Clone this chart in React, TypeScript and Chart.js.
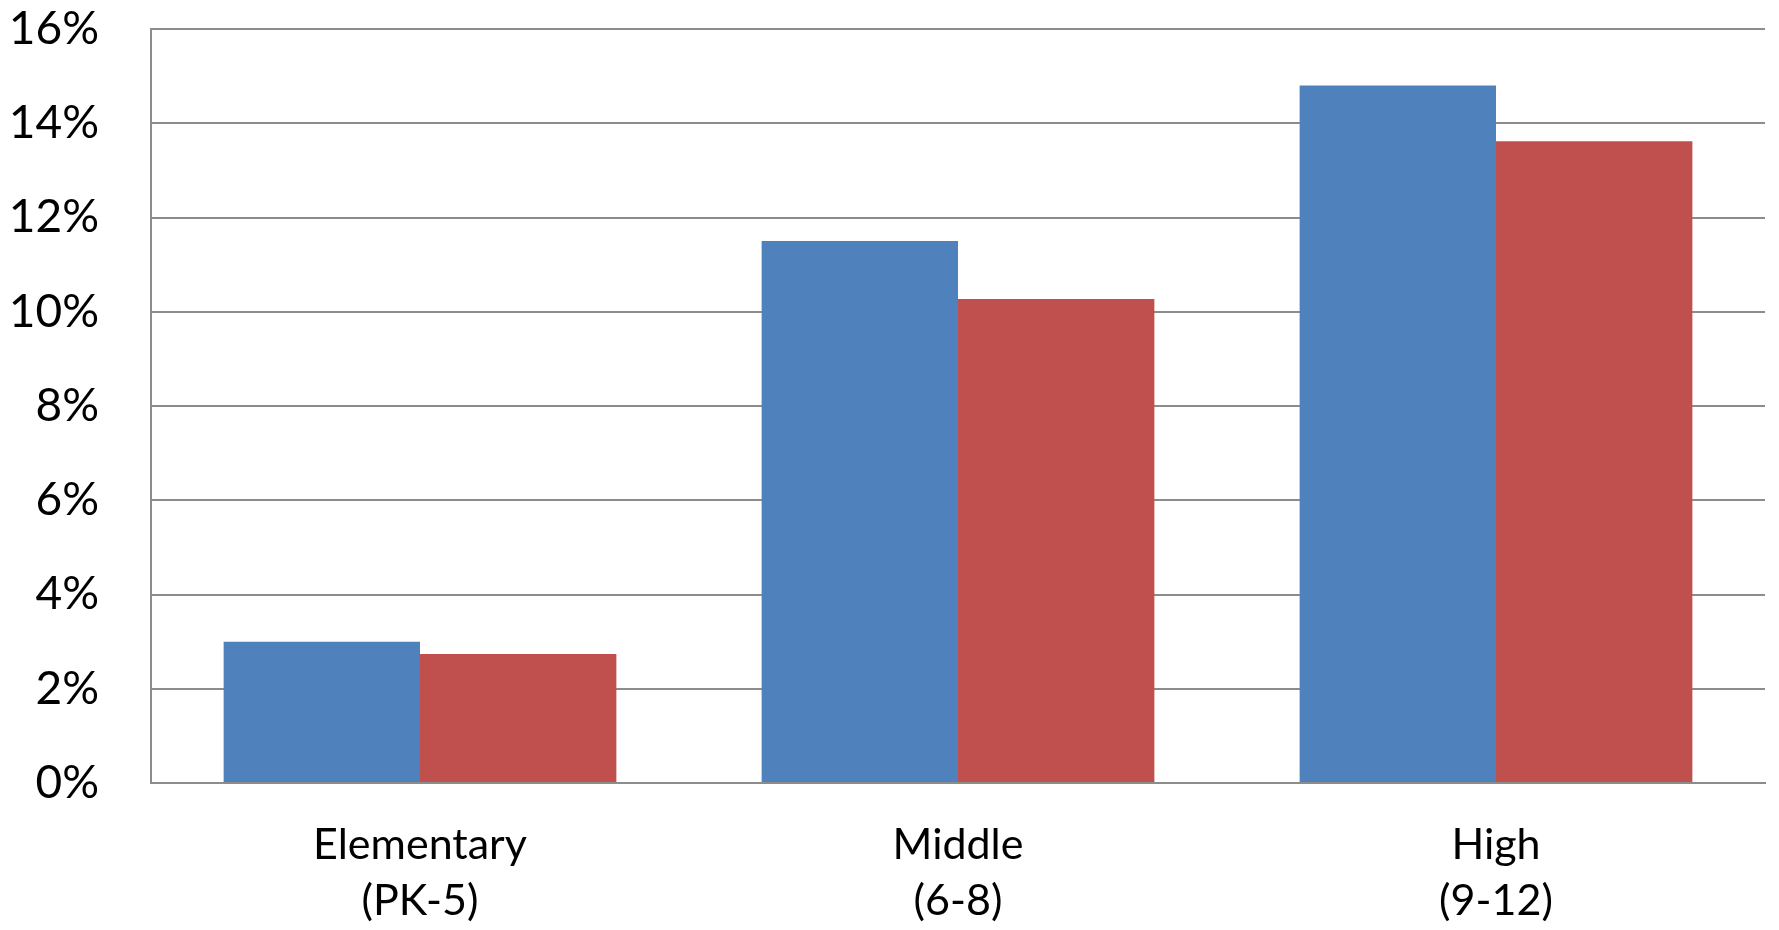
import React, { useEffect, useRef } from "react";
import { Chart, registerables } from "chart.js";

Chart.register(...registerables);

const categories: string[][] = [["Elementary", "(PK-5)"], ["Middle", "(6-8)"], ["High", "(9-12)"]];
const seriesA: number[] = [3.0, 11.5, 14.8];
const seriesB: number[] = [2.74, 10.27, 13.62];
const yTicks: number[] = [0, 2, 4, 6, 8, 10, 12, 14, 16];

export default function App() {
  const ref = useRef<HTMLCanvasElement | null>(null);
  useEffect(() => {
    if (!ref.current) return;
    const chart = new Chart(ref.current, {
      type: "bar",
      data: {
        labels: categories,
        datasets: [
          { label: "A", data: seriesA, backgroundColor: "#4F81BD", borderWidth: 0 },
          { label: "B", data: seriesB, backgroundColor: "#C0504D", borderWidth: 0 },
        ],
      },
      options: {
        responsive: false,
        animation: false,
        layout: { padding: { top: 29, right: 14, left: 0, bottom: 0 } },
        plugins: { legend: { display: false }, tooltip: { enabled: false } },
        datasets: { bar: { categoryPercentage: 0.73, barPercentage: 1 } },
        scales: {
          x: {
            grid: { display: false, drawTicks: false },
            border: { display: true, color: "#8c8c8c", width: 2 },
            ticks: {
              color: "#000",
              padding: 34,
              maxRotation: 0,
              font: { family: "Lato", size: 43, lineHeight: 1.3 },
            },
            afterFit: (s: any) => {
              s.height = 147;
              s.paddingLeft = 0;
              s.paddingRight = 0;
            },
          },
          y: {
            min: 0,
            max: 16,
            afterBuildTicks: (s: any) => { s.ticks = yTicks.map((v) => ({ value: v })); },
            grid: { color: "#8c8c8c", lineWidth: 2, drawTicks: false },
            border: { display: true, color: "#8c8c8c", width: 2 },
            ticks: {
              color: "#000",
              padding: 52,
              font: { family: "Lato", size: 46, lineHeight: 1.2 },
              callback: (v: any) => `${v}%`,
            },
            afterFit: (s: any) => {
              s.width = 151;
              s.paddingTop = 0;
              s.paddingBottom = 0;
            },
          },
        },
      },
    });
    return () => chart.destroy();
  }, []);
  return (
    <div style={{ position: "absolute", left: 0, top: 0, width: 1779, height: 930, background: "#fff" }}>
      <canvas ref={ref} width={1779} height={930} style={{ display: "block" }} />
    </div>
  );
}
